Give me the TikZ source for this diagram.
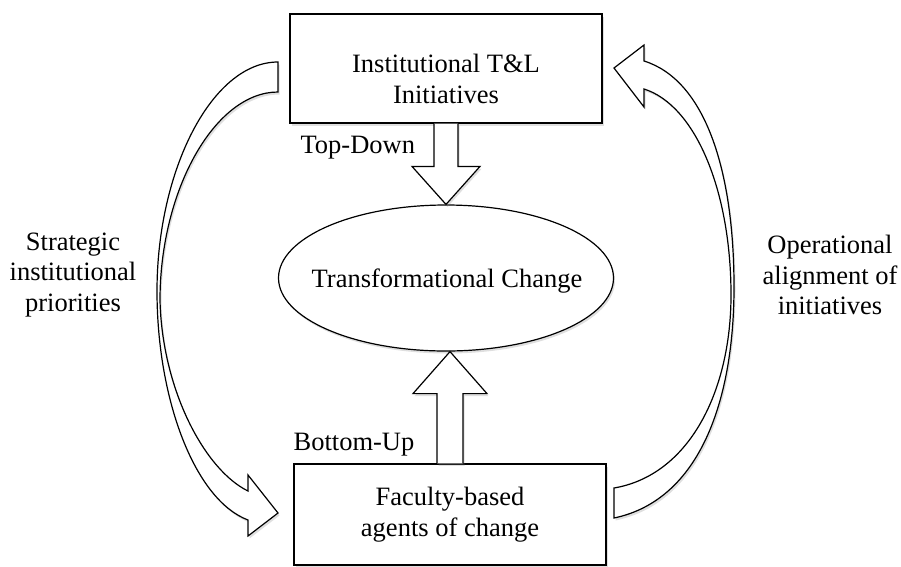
\documentclass[tikz,border=0pt]{standalone}
\usepackage{fontspec}
\setmainfont{Liberation Serif}
\usetikzlibrary{shadows,calc,shapes.geometric}
\begin{document}
\begin{tikzpicture}[x=1pt, y=-1pt, line width=1.2pt, line join=miter,
  font=\fontsize{26.5}{30.5}\selectfont,
  wshadow/.style={drop shadow={shadow xshift=1.5pt,shadow yshift=-2.5pt,opacity=0.25}},
  box/.style={draw, fill=white, wshadow, align=center, inner sep=0pt,
    minimum width=312pt, minimum height=109pt},
  band/.style={draw, fill=white, wshadow},
  txt/.style={align=center, inner sep=0pt}]
\useasboundingbox (0,0) rectangle (901,566);
% boxes and the ellipse
\node[box] (inst) at (446,68.5) {};
\node[txt] (instT) at (446,79) {Institutional T\&L\\Initiatives};
\node[box, minimum height=101pt] (fac) at (450,514.5) {Faculty-based\\agents of change};
\node[ellipse, draw, fill=white, wshadow, inner sep=0pt, minimum width=335pt,
  minimum height=146pt] (change) at (446,278) {};
\node[txt] (changeT) at (447,281) {Transformational Change};
% block arrows
\draw[band] ($(inst.south)+(-12,0)$) |- ($(inst.south |- change.north)+(-34,-38)$)
  -- (inst.south |- change.north) -- ($(inst.south |- change.north)+(34,-38)$)
  -| ($(inst.south)+(12,0)$);
\draw[band] ($(fac.north)+(-13,0)$) |- ($(fac.north |- change.south)+(-37,42)$)
  -- (fac.north |- change.south) -- ($(fac.north |- change.south)+(37,42)$)
  -| ($(fac.north)+(13,0)$);
\node[txt, anchor=base west] (td) at (300,153) {Top-Down};
\node[txt, anchor=base west] (bu) at (293,450) {Bottom-Up};
% curved arrows
\draw[band] (278,62) .. controls (212,62) and (157,170) .. (157,291)
  .. controls (157,400) and (195,500) .. (248,520) -- (248,536) -- (278,513)
  -- (248,475) -- (248,491) .. controls (205,470) and (162,390) .. (160,300)
  .. controls (160,190) and (215,92) .. (278,92) -- cycle;
\draw[band] (614,518) .. controls (700,500) and (734,400) .. (734,287)
  .. controls (734,170) and (705,80) .. (644,61) -- (644,45) -- (614,68)
  -- (644,107) -- (644,89) .. controls (695,105) and (731,190) .. (731,295)
  .. controls (731,390) and (690,475) .. (614,488) -- cycle;
\node[txt] (strat) at (73,275) {Strategic\\institutional\\priorities};
\node[txt] (oper) at (830,275) {Operational\\alignment of\\initiatives};
\end{tikzpicture}
\end{document}
